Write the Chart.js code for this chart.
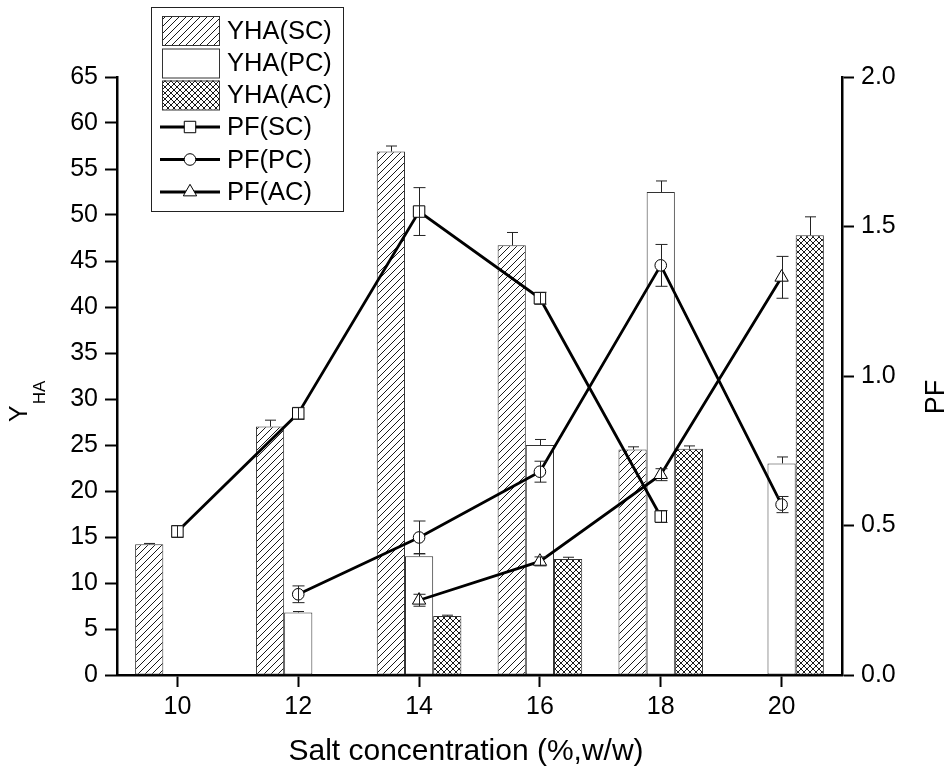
<!DOCTYPE html>
<html>
<head>
<meta charset="utf-8">
<script src="https://cdn.jsdelivr.net/npm/chart.js@4.4.0/dist/chart.umd.min.js"></script>
<style>
  html, body { margin: 0; padding: 0; background: #fff; }
</style>
</head>
<body>
<canvas id="chart" width="951" height="770"></canvas>
<script>
const salt = ['10', '12', '14', '16', '18', '20'];

// Y_HA bars (left axis) and their +errors
const yhaSC = [14.2, 27.0, 56.9, 46.7, 24.5, null];
const yhaSCErr = [0.1, 0.7, 0.6, 1.4, 0.3, null];
const yhaPC = [null, 6.8, 12.9, 25.0, 52.5, 23.0];
const yhaPCErr = [null, 0.1, 0.3, 0.6, 1.2, 0.7];
const yhaAC = [null, null, 6.4, 12.6, 24.6, 47.8];
const yhaACErr = [null, null, 0.1, 0.2, 0.3, 2.0];

// PF lines (right axis) and their ± errors
const pfSC = [0.48, 0.875, 1.55, 1.26, 0.53, null];
const pfSCErr = [0.02, 0.02, 0.08, 0.02, 0.02, null];
const pfPC = [null, 0.27, 0.46, 0.68, 1.37, 0.57];
const pfPCErr = [null, 0.028, 0.055, 0.035, 0.07, 0.027];
const pfAC = [null, null, 0.25, 0.38, 0.67, 1.33];
const pfACErr = [null, null, 0.02, 0.015, 0.02, 0.07];

const FONT = "'Liberation Sans', Arial, sans-serif";

function hatch(size, cross) {
    const c = document.createElement('canvas');
    c.width = size;
    c.height = size;
    const g = c.getContext('2d');
    g.fillStyle = '#fff';
    g.fillRect(0, 0, size, size);
    g.strokeStyle = '#1a1a1a';
    g.lineWidth = 1;
    g.beginPath();
    g.moveTo(-1, 1); g.lineTo(1, -1);
    g.moveTo(0, size); g.lineTo(size, 0);
    g.moveTo(size - 1, size + 1); g.lineTo(size + 1, size - 1);
    if (cross) {
        g.moveTo(-1, size - 1); g.lineTo(1, size + 1);
        g.moveTo(0, 0); g.lineTo(size, size);
        g.moveTo(size - 1, -1); g.lineTo(size + 1, 1);
    }
    g.stroke();
    return g.createPattern(c, 'repeat');
}

const ctx = document.getElementById('chart').getContext('2d');
const diag = hatch(7, false);
const crossHatch = hatch(6, true);

function barSet(label, data, errors, fill) {
    return {
        type: 'bar',
        label: label,
        data: data,
        errors: errors,
        yAxisID: 'y',
        backgroundColor: fill,
        borderColor: '#333',
        borderWidth: 1,
        borderSkipped: false,
        categoryPercentage: 0.7,
        barPercentage: 1.0,
        order: 2
    };
}

function lineSet(label, data, errors, style, radius) {
    return {
        type: 'line',
        label: label,
        data: data,
        errors: errors,
        yAxisID: 'y1',
        borderColor: '#000',
        borderWidth: 2.8,
        pointStyle: style,
        pointRadius: radius,
        pointBackgroundColor: '#fff',
        pointBorderColor: '#000',
        pointBorderWidth: 1,
        tension: 0,
        fill: false,
        order: 1
    };
}

// error bars: bars get a + error only, PF points get ± errors
const errorBars = {
    id: 'errorBars',
    afterDatasetsDraw(chart) {
        const c = chart.ctx;
        c.save();
        c.strokeStyle = '#222';
        c.lineWidth = 1;
        chart.data.datasets.forEach((ds, i) => {
            const meta = chart.getDatasetMeta(i);
            const scale = chart.scales[ds.yAxisID];
            meta.data.forEach((el, j) => {
                const v = ds.data[j];
                const e = ds.errors[j];
                if (v == null || e == null) return;
                const x = Math.round(el.x) + 0.5;
                const top = scale.getPixelForValue(v + e);
                const bottom = ds.type === 'bar' ? el.y : scale.getPixelForValue(v - e);
                const w = ds.type === 'bar' ? 5.5 : 6;
                c.beginPath();
                c.moveTo(x, bottom);
                c.lineTo(x, top);
                c.moveTo(x - w, top);
                c.lineTo(x + w, top);
                if (ds.type !== 'bar') {
                    c.moveTo(x - w, bottom);
                    c.lineTo(x + w, bottom);
                }
                c.stroke();
            });
        });
        c.restore();
    }
};

// boxed legend in the upper left and the three axis titles
const decorations = {
    id: 'decorations',
    afterDraw(chart) {
        const c = chart.ctx;
        c.save();
        c.strokeStyle = '#222';
        c.lineWidth = 1;
        c.strokeRect(151.5, 7.5, 192, 204);

        c.font = '25.5px ' + FONT;
        c.fillStyle = '#000';
        c.textBaseline = 'middle';
        c.textAlign = 'left';
        const rows = [30.5, 63, 95, 127, 159.5, 192];
        chart.data.datasets.forEach((ds, i) => {
            const cy = rows[i];
            if (ds.type === 'bar') {
                c.fillStyle = ds.backgroundColor;
                c.fillRect(162, cy - 14.5, 57, 29);
                c.strokeStyle = '#333';
                c.lineWidth = 1;
                c.strokeRect(162.5, cy - 14, 57, 29);
            } else {
                c.strokeStyle = '#000';
                c.lineWidth = 2.8;
                c.beginPath();
                c.moveTo(160, cy);
                c.lineTo(220, cy);
                c.stroke();
                c.fillStyle = '#fff';
                c.strokeStyle = '#000';
                c.lineWidth = 1;
                Chart.helpers.drawPoint(c, {
                    pointStyle: ds.pointStyle,
                    radius: ds.pointRadius,
                    borderWidth: 1
                }, 190, cy);
            }
            c.fillStyle = '#000';
            c.fillText(ds.label, 227, cy + 1);
        });

        c.textAlign = 'center';
        c.textBaseline = 'alphabetic';
        c.font = '30px ' + FONT;
        c.fillText('Salt concentration (%,w/w)', 466, 760);

        c.save();
        c.translate(27, 422);
        c.rotate(-Math.PI / 2);
        c.textAlign = 'left';
        c.font = '25px ' + FONT;
        c.fillText('Y', 0, 0);
        const yw = c.measureText('Y').width;
        c.font = '17px ' + FONT;
        c.fillText('HA', yw + 1, 18);
        c.restore();

        c.save();
        c.translate(944, 397);
        c.rotate(-Math.PI / 2);
        c.font = '27px ' + FONT;
        c.fillText('PF', 0, 0);
        c.restore();
        c.restore();
    }
};

const tickFont = { family: FONT, size: 25 };

new Chart(ctx, {
    data: {
        labels: salt,
        datasets: [
            barSet('YHA(SC)', yhaSC, yhaSCErr, diag),
            barSet('YHA(PC)', yhaPC, yhaPCErr, '#fff'),
            barSet('YHA(AC)', yhaAC, yhaACErr, crossHatch),
            lineSet('PF(SC)', pfSC, pfSCErr, 'rect', 8.1),
            lineSet('PF(PC)', pfPC, pfPCErr, 'circle', 5.8),
            lineSet('PF(AC)', pfAC, pfACErr, 'triangle', 7.7)
        ]
    },
    options: {
        responsive: false,
        animation: false,
        events: [],
        layout: { padding: { top: 77, left: 0, right: 0, bottom: 0 } },
        plugins: {
            legend: { display: false },
            tooltip: { enabled: false }
        },
        scales: {
            x: {
                type: 'category',
                offset: true,
                z: 1,
                border: { display: true, color: '#000', width: 2.5 },
                grid: {
                    offset: false,
                    drawOnChartArea: false,
                    drawTicks: true,
                    tickLength: 12,
                    tickColor: '#000',
                    tickWidth: 2
                },
                ticks: { font: tickFont, color: '#000', padding: 5, maxRotation: 0 },
                afterFit(scale) { scale.height = 95; }
            },
            y: {
                type: 'linear',
                position: 'left',
                min: 0,
                max: 65,
                z: 1,
                border: { display: true, color: '#000', width: 2.5 },
                grid: {
                    drawOnChartArea: false,
                    tickLength: 12,
                    tickColor: '#000',
                    tickWidth: 2
                },
                ticks: { stepSize: 5, font: tickFont, color: '#000', padding: 7 },
                afterFit(scale) { scale.width = 117; }
            },
            y1: {
                type: 'linear',
                position: 'right',
                min: 0,
                max: 2,
                z: 1,
                border: { display: true, color: '#000', width: 2.5 },
                grid: {
                    drawOnChartArea: false,
                    tickLength: 12,
                    tickColor: '#000',
                    tickWidth: 2
                },
                ticks: {
                    stepSize: 0.5,
                    font: tickFont,
                    color: '#000',
                    padding: 7,
                    callback: v => v.toFixed(1)
                },
                afterFit(scale) { scale.width = 109; }
            }
        }
    },
    plugins: [errorBars, decorations]
});
</script>
</body>
</html>
